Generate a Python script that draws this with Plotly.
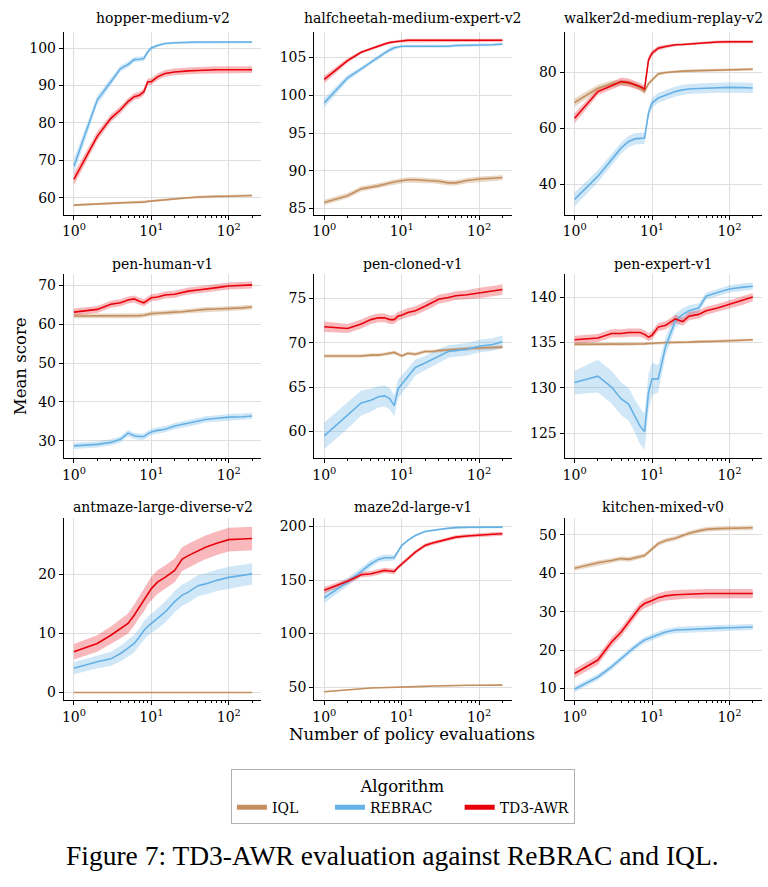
import plotly.graph_objects as go

W, H = 768, 887

X = [1, 2, 3, 4, 5, 6, 7, 8, 9, 10, 12, 15, 20, 25, 30, 40, 50, 70, 100, 150, 200]

algorithms = ["IQL", "REBRAC", "TD3-AWR"]
legend_names = {"IQL": "IQL" + "\u00a0" * 6, "REBRAC": "REBRAC" + "\u00a0" * 5,
                "TD3-AWR": "TD3-AWR"}
colors = {"IQL": "#C48F5E", "REBRAC": "#65B1E6", "TD3-AWR": "#E8000B"}
band_colors = {"IQL": "rgba(196,143,94,0.35)", "REBRAC": "rgba(101,177,230,0.30)",
               "TD3-AWR": "rgba(232,0,11,0.28)"}

titles = ["hopper-medium-v2", "halfcheetah-medium-expert-v2", "walker2d-medium-replay-v2",
          "pen-human-v1", "pen-cloned-v1", "pen-expert-v1",
          "antmaze-large-diverse-v2", "maze2d-large-v1", "kitchen-mixed-v0"]

# ---- mean scores -------------------------------------------------------
hopper_iql = [58.0, 58.4, 58.5, 58.6, 58.7, 58.7, 58.8, 58.8, 59.0, 59.1, 59.3, 59.5, 59.7, 59.9, 60.0, 60.2, 60.3, 60.4, 60.4, 60.5, 60.6]
hopper_rebrac = [68.4, 86.1, 91.0, 94.5, 95.6, 96.9, 97.0, 97.2, 99.0, 100.0, 100.7, 101.2, 101.4, 101.5, 101.5, 101.6, 101.6, 101.6, 101.6, 101.6, 101.6]
hopper_td3 = [64.9, 76.4, 81.2, 83.5, 85.7, 87.0, 87.4, 88.3, 91.0, 91.0, 92.3, 93.2, 93.6, 93.8, 93.9, 94.0, 94.1, 94.2, 94.2, 94.2, 94.2]

cheetah_iql = [85.8, 86.7, 87.6, 87.8, 88.0, 88.2, 88.4, 88.5, 88.6, 88.7, 88.8, 88.8, 88.7, 88.7, 88.6, 88.4, 88.4, 88.7, 88.9, 89.0, 89.1]
cheetah_rebrac = [99.0, 102.3, 103.5, 104.4, 105.0, 105.6, 106.0, 106.3, 106.4, 106.5, 106.5, 106.5, 106.5, 106.5, 106.5, 106.5, 106.6, 106.6, 106.7, 106.7, 106.8]
cheetah_td3 = [102.1, 104.6, 105.7, 106.2, 106.5, 106.8, 107.0, 107.1, 107.2, 107.2, 107.3, 107.3, 107.3, 107.3, 107.3, 107.3, 107.3, 107.3, 107.3, 107.3, 107.3]

walker_iql = [69.3, 74.4, 76.0, 76.4, 76.2, 75.5, 74.5, 73.2, 76.0, 77.4, 79.5, 80.0, 80.4, 80.5, 80.6, 80.7, 80.7, 80.9, 81.0, 81.1, 81.2]
walker_rebrac = [34.7, 43.0, 48.9, 53.1, 55.4, 56.3, 56.5, 56.6, 65.5, 69.1, 70.9, 72.0, 73.2, 73.8, 74.1, 74.3, 74.4, 74.6, 74.7, 74.6, 74.5]
walker_td3 = [63.7, 73.2, 75.3, 76.8, 76.4, 75.6, 75.0, 74.1, 84.5, 86.9, 88.7, 89.3, 89.9, 90.0, 90.2, 90.5, 90.7, 90.9, 91.0, 91.0, 91.0]

penh_iql = [62.1, 62.1, 62.1, 62.1, 62.1, 62.1, 62.2, 62.3, 62.5, 62.7, 62.8, 63.0, 63.1, 63.2, 63.4, 63.6, 63.8, 63.9, 64.0, 64.2, 64.4]
penh_rebrac = [28.7, 29.1, 29.6, 30.4, 32.0, 31.3, 31.1, 31.1, 31.8, 32.3, 32.7, 33.0, 33.8, 34.2, 34.5, 35.0, 35.5, 35.8, 36.1, 36.2, 36.4]
penh_td3 = [63.1, 63.8, 65.1, 65.5, 66.2, 66.5, 65.9, 65.5, 66.2, 66.8, 67.0, 67.5, 67.7, 68.2, 68.5, 68.8, 69.1, 69.4, 69.8, 70.0, 70.1]

penc_iql = [68.5, 68.5, 68.5, 68.6, 68.6, 68.7, 68.8, 68.9, 68.7, 68.5, 68.8, 68.7, 69.0, 69.0, 69.1, 69.2, 69.3, 69.35, 69.4, 69.45, 69.5]
penc_rebrac = [59.5, 61.8, 63.2, 63.5, 63.9, 64.0, 63.7, 62.9, 64.8, 65.3, 66.1, 67.2, 67.7, 68.1, 68.5, 69.0, 69.1, 69.25, 69.6, 69.8, 70.1]
penc_td3 = [71.8, 71.6, 72.1, 72.6, 72.8, 72.8, 72.6, 72.6, 73.0, 73.1, 73.4, 73.6, 74.1, 74.5, 74.9, 75.1, 75.3, 75.4, 75.6, 75.8, 76.0]

pene_iql = [134.8, 134.8, 134.8, 134.8, 134.8, 134.8, 134.85, 134.85, 134.9, 134.9, 134.95, 135.0, 135.0, 135.05, 135.05, 135.1, 135.1, 135.15, 135.2, 135.25, 135.3]
pene_rebrac = [130.6, 131.3, 130.1, 128.8, 128.2, 126.9, 125.8, 125.2, 129.5, 131.0, 131.0, 134.6, 137.4, 138.1, 138.5, 138.8, 140.1, 140.5, 140.9, 141.1, 141.2]
pene_td3 = [135.3, 135.5, 136.0, 136.0, 136.1, 136.1, 136.1, 135.9, 135.6, 135.8, 136.7, 136.9, 137.6, 137.3, 137.9, 138.1, 138.5, 138.8, 139.2, 139.6, 140.0]

ant_iql = [0.0] * 21
ant_rebrac = [4.1, 5.2, 5.7, 6.6, 7.5, 8.3, 9.4, 10.5, 11.2, 11.7, 12.5, 13.6, 15.4, 16.5, 17.0, 18.1, 18.4, 19.0, 19.5, 19.8, 20.1]
ant_td3 = [6.9, 8.3, 9.7, 10.8, 11.7, 13.1, 14.5, 15.6, 16.8, 17.6, 18.7, 19.5, 20.7, 22.6, 23.2, 24.0, 24.6, 25.3, 25.9, 26.0, 26.1]

maze_iql = [45.7, 47.5, 48.8, 49.2, 49.4, 49.5, 49.6, 49.7, 49.7, 49.7, 50.0, 50.3, 50.7, 51.0, 51.2, 51.4, 51.5, 51.7, 51.8, 51.9, 51.9]
maze_rebrac = [133.5, 148.1, 158.0, 165.2, 169.3, 170.8, 170.8, 170.8, 177.0, 182.3, 187.0, 191.6, 195.3, 196.5, 197.2, 198.3, 199.0, 199.3, 199.4, 199.4, 199.4]
maze_td3 = [140.4, 148.8, 155.0, 155.9, 157.5, 159.0, 158.5, 158.0, 162.0, 165.2, 169.9, 176.1, 182.3, 184.5, 186.0, 188.5, 190.1, 191.2, 192.2, 192.8, 193.2]

kitchen_iql = [41.3, 42.7, 43.3, 43.8, 43.6, 44.0, 44.3, 44.6, 45.5, 46.4, 47.7, 48.5, 49.1, 49.8, 50.4, 51.0, 51.4, 51.6, 51.7, 51.8, 51.8]
kitchen_rebrac = [9.8, 13.0, 15.6, 17.8, 19.5, 20.8, 21.8, 22.6, 23.0, 23.4, 24.0, 24.7, 25.2, 25.3, 25.4, 25.5, 25.6, 25.7, 25.8, 25.9, 26.0]
kitchen_td3 = [13.9, 17.4, 22.1, 24.7, 27.3, 29.5, 31.2, 32.1, 32.6, 32.9, 33.6, 34.1, 34.4, 34.5, 34.6, 34.6, 34.7, 34.7, 34.7, 34.7, 34.7]

# ---- band half-widths (spread around the mean) ---------------------------
hopper_iql_sd = [0.3] * 21
hopper_rebrac_sd = [2.0, 1.2, 1.0, 0.8, 0.8, 0.7, 0.7, 0.7, 0.6, 0.5, 0.4, 0.3, 0.3, 0.3, 0.3, 0.3, 0.3, 0.3, 0.3, 0.3, 0.3]
hopper_td3_sd = [1.6, 1.2, 1.0, 1.0, 0.9, 0.9, 0.9, 0.9, 0.9, 0.9, 0.9, 0.9, 0.9, 0.9, 0.9, 0.9, 0.9, 0.9, 0.9, 0.9, 0.9]

cheetah_iql_sd = [0.35] * 21
cheetah_rebrac_sd = [0.6, 0.4, 0.3, 0.3, 0.3, 0.3, 0.3, 0.3, 0.2, 0.2, 0.2, 0.2, 0.2, 0.2, 0.2, 0.2, 0.2, 0.2, 0.2, 0.2, 0.2]
cheetah_td3_sd = [0.5, 0.3, 0.2, 0.2, 0.2, 0.2, 0.2, 0.2, 0.2, 0.2, 0.2, 0.2, 0.2, 0.2, 0.2, 0.2, 0.2, 0.2, 0.2, 0.2, 0.2]

walker_iql_sd = [1.5, 1.2, 1.2, 1.0, 1.0, 1.0, 1.0, 1.0, 0.8, 0.7, 0.6, 0.5, 0.5, 0.5, 0.5, 0.5, 0.5, 0.5, 0.5, 0.5, 0.5]
walker_rebrac_sd = [2.5, 2.2, 2.0, 2.0, 2.0, 2.0, 2.0, 2.0, 1.8, 1.8, 1.8, 1.8, 1.8, 1.8, 1.8, 1.8, 1.8, 1.8, 1.8, 1.8, 1.8]
walker_td3_sd = [1.8, 1.2, 1.2, 1.4, 1.5, 1.4, 1.3, 1.2, 1.2, 1.0, 0.8, 0.6, 0.5, 0.5, 0.5, 0.5, 0.5, 0.5, 0.5, 0.5, 0.5]

penh_iql_sd = [0.6] * 21
penh_rebrac_sd = [0.8] * 21
penh_td3_sd = [0.9] * 21

penc_iql_sd = [0.2] * 21
penc_rebrac_sd = [1.5, 1.5, 1.4, 1.3, 1.2, 1.2, 1.2, 1.2, 1.1, 1.0, 1.0, 0.9, 0.8, 0.8, 0.8, 0.7, 0.7, 0.7, 0.7, 0.7, 0.7]
penc_td3_sd = [0.6, 0.5, 0.5, 0.5, 0.5, 0.5, 0.5, 0.5, 0.5, 0.5, 0.5, 0.5, 0.5, 0.5, 0.5, 0.5, 0.5, 0.5, 0.6, 0.6, 0.6]

pene_iql_sd = [0.15] * 21
pene_rebrac_sd = [1.3, 1.8, 1.8, 1.8, 1.8, 1.8, 2.0, 2.0, 2.0, 1.8, 1.5, 1.0, 0.8, 0.7, 0.6, 0.5, 0.4, 0.4, 0.4, 0.4, 0.4]
pene_td3_sd = [0.45] * 21

ant_iql_sd = [0.05] * 21
ant_rebrac_sd = [1.0, 1.1, 1.2, 1.3, 1.4, 1.5, 1.5, 1.6, 1.6, 1.7, 1.7, 1.8, 1.8, 1.8, 1.8, 1.8, 1.8, 1.8, 1.8, 1.8, 1.8]
ant_td3_sd = [1.3, 1.4, 1.5, 1.6, 1.7, 1.8, 1.8, 1.9, 1.9, 2.0, 2.0, 2.0, 2.0, 2.0, 2.0, 2.0, 2.0, 2.0, 2.0, 2.0, 2.0]

maze_iql_sd = [0.5] * 21
maze_rebrac_sd = [5.0, 4.0, 3.5, 3.5, 3.0, 3.0, 3.0, 2.5, 2.0, 1.5, 1.2, 1.0, 1.0, 1.0, 1.0, 1.0, 1.0, 1.0, 1.0, 1.0, 1.0]
maze_td3_sd = [3.0, 2.5, 2.5, 2.5, 2.5, 2.5, 2.5, 2.5, 2.0, 2.0, 2.0, 1.8, 1.8, 1.8, 1.8, 1.8, 1.8, 1.8, 1.8, 1.8, 1.8]

kitchen_iql_sd = [0.6] * 21
kitchen_rebrac_sd = [0.8] * 21
kitchen_td3_sd = [1.2] * 21

panels = [
    (hopper_iql, hopper_rebrac, hopper_td3, hopper_iql_sd, hopper_rebrac_sd, hopper_td3_sd),
    (cheetah_iql, cheetah_rebrac, cheetah_td3, cheetah_iql_sd, cheetah_rebrac_sd, cheetah_td3_sd),
    (walker_iql, walker_rebrac, walker_td3, walker_iql_sd, walker_rebrac_sd, walker_td3_sd),
    (penh_iql, penh_rebrac, penh_td3, penh_iql_sd, penh_rebrac_sd, penh_td3_sd),
    (penc_iql, penc_rebrac, penc_td3, penc_iql_sd, penc_rebrac_sd, penc_td3_sd),
    (pene_iql, pene_rebrac, pene_td3, pene_iql_sd, pene_rebrac_sd, pene_td3_sd),
    (ant_iql, ant_rebrac, ant_td3, ant_iql_sd, ant_rebrac_sd, ant_td3_sd),
    (maze_iql, maze_rebrac, maze_td3, maze_iql_sd, maze_rebrac_sd, maze_td3_sd),
    (kitchen_iql, kitchen_rebrac, kitchen_td3, kitchen_iql_sd, kitchen_rebrac_sd, kitchen_td3_sd),
]

y_ranges = [[55.5, 104.3], [84.2, 108.4], [29.3, 94.5],
            [25.6, 72.8], [57.0, 77.7], [122.3, 142.5],
            [-1.35, 29.6], [37.6, 208.1], [6.9, 54.4]]
y_ticks = [[60, 70, 80, 90, 100], [85, 90, 95, 100, 105], [40, 60, 80],
           [30, 40, 50, 60, 70], [60, 65, 70, 75], [125, 130, 135, 140],
           [0, 10, 20], [50, 100, 150, 200], [10, 20, 30, 40, 50]]

x_major = [1, 10, 100]
x_major_text = ["10<sup>0</sup>", "10<sup>1</sup>", "10<sup>2</sup>"]
x_minor = [2, 3, 4, 5, 6, 7, 8, 9, 20, 30, 40, 50, 60, 70, 80, 90, 200]

# ---- layout geometry (pixels) -------------------------------------------
col_px = [(62, 260), (313, 511), (564, 762)]
row_px = [(32, 215), (275, 459), (519, 702)]
title_y_px = [18, 265, 508]

FONT = "DejaVu Serif"
fig = go.Figure()
layout = dict(width=W, height=H, margin=dict(l=0, r=0, t=0, b=0),
              paper_bgcolor="white", plot_bgcolor="white",
              font=dict(family=FONT, size=14, color="black"))
annotations = []

for i in range(9):
    r, c = divmod(i, 3)
    n = i + 1
    xa = "x" if n == 1 else f"x{n}"
    ya = "y" if n == 1 else f"y{n}"
    data = panels[i]
    for k, alg in enumerate(algorithms):
        mean = data[k]
        sd = data[3 + k]
        upper = [m + s for m, s in zip(mean, sd)]
        lower = [m - s for m, s in zip(mean, sd)]
        fig.add_trace(go.Scatter(x=X + X[::-1], y=upper + lower[::-1], fill="toself",
                                 fillcolor=band_colors[alg], line=dict(width=0),
                                 mode="lines", hoverinfo="skip", showlegend=False,
                                 xaxis=xa, yaxis=ya))
    for k, alg in enumerate(algorithms):
        fig.add_trace(go.Scatter(x=X, y=data[k], mode="lines",
                                 line=dict(color=colors[alg], width=1.6),
                                 showlegend=False, xaxis=xa, yaxis=ya))
    x0, x1 = col_px[c]
    y0, y1 = row_px[r]
    layout["xaxis" if n == 1 else f"xaxis{n}"] = dict(
        domain=[x0 / W, x1 / W], anchor=ya, type="log", range=[-0.13, 2.42],
        tickvals=x_major, ticktext=x_major_text, ticks="outside", ticklen=4,
        tickcolor="black", showline=True, linecolor="black", linewidth=1,
        showgrid=True, gridcolor="#dedede", gridwidth=1, zeroline=False,
        tickfont=dict(family=FONT, size=14),
        minor=dict(tickvals=x_minor, ticks="outside", ticklen=2, tickcolor="black",
                   showgrid=False))
    layout["yaxis" if n == 1 else f"yaxis{n}"] = dict(
        domain=[1 - y1 / H, 1 - y0 / H], anchor=xa, range=y_ranges[i],
        tickvals=y_ticks[i], ticks="outside", ticklen=4, tickcolor="black",
        showline=True, linecolor="black", linewidth=1, showgrid=True,
        gridcolor="#dedede", gridwidth=1, zeroline=False,
        tickfont=dict(family=FONT, size=14))
    annotations.append(dict(text=titles[i], x=(x0 + x1) / 2 / W, y=1 - title_y_px[r] / H,
                            xref="paper", yref="paper", showarrow=False,
                            xanchor="center", yanchor="middle",
                            font=dict(family=FONT, size=14)))

# legend entries
for alg in algorithms:
    fig.add_trace(go.Scatter(x=[None], y=[None], mode="lines", name=legend_names[alg],
                             line=dict(color=colors[alg], width=5)))

annotations.append(dict(text="Mean score", x=18 / W, y=1 - 367 / H, xref="paper", yref="paper",
                        showarrow=False, textangle=-90, xanchor="center", yanchor="middle",
                        font=dict(family=FONT, size=16.5)))
annotations.append(dict(text="Number of policy evaluations", x=411 / W, y=1 - 736 / H,
                        xref="paper", yref="paper", showarrow=False,
                        xanchor="center", yanchor="middle", font=dict(family=FONT, size=16.5)))
annotations.append(dict(text="Figure 7: TD3-AWR evaluation against ReBRAC and IQL.",
                        x=392 / W, y=1 - 857 / H, xref="paper", yref="paper", showarrow=False,
                        xanchor="center", yanchor="middle",
                        font=dict(family="Liberation Serif", size=27.5)))

layout["annotations"] = annotations
layout["legend"] = dict(orientation="h", x=402 / W, xanchor="center", y=1 - 771 / H,
                        yanchor="top", bgcolor="white", bordercolor="#b0b0b0", borderwidth=1,
                        font=dict(family=FONT, size=14),
                        title=dict(text="Algorithm", side="top center",
                                   font=dict(family=FONT, size=16.5)))
fig.update_layout(**layout)
fig.write_html("out.html")
